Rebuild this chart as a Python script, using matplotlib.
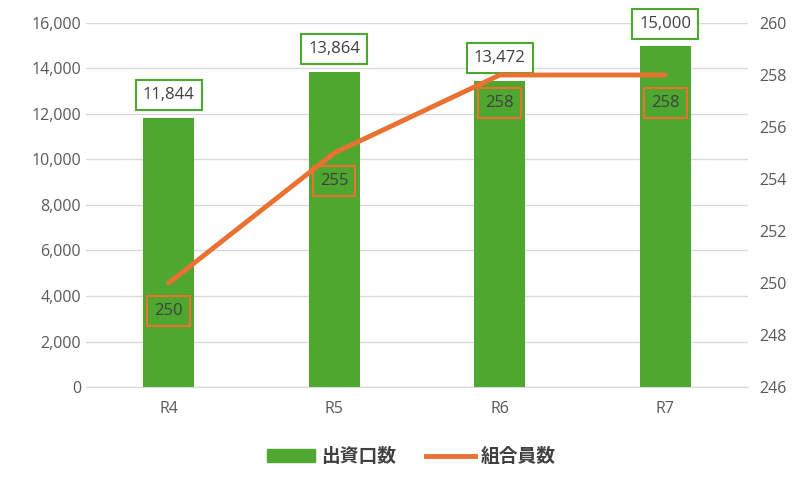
import matplotlib
matplotlib.use("Agg")
import matplotlib.pyplot as plt
from matplotlib.lines import Line2D
from matplotlib.patches import Patch

LATIN = ['Open Sans', 'Noto Sans CJK JP', 'DejaVu Sans']
CJK = ['Noto Sans CJK JP', 'DejaVu Sans']
plt.rcParams['font.family'] = LATIN

categories = ["R4", "R5", "R6", "R7"]
capital = [11844, 13864, 13472, 15000]
members = [250, 255, 258, 258]
series_names = ["出資口数", "組合員数"]

GREEN = "#4EA72E"
ORANGE = "#E97132"
TXT = "#595959"

fig = plt.figure(figsize=(8.06, 4.86), dpi=100)
ax = fig.add_axes([0.1067, 0.2037, 0.8213, 0.749])
ax2 = ax.twinx()

x = list(range(len(categories)))
ax.bar(x, capital, width=0.31, color=GREEN, zorder=2)
ax.set_xlim(-0.5, len(categories) - 0.5)
ax.set_ylim(0, 16000)
ax.set_yticks(range(0, 16001, 2000))
ax.set_yticklabels([f"{v:,}" for v in range(0, 16001, 2000)])
ax.grid(axis="y", color="#D9D9D9", linewidth=1, zorder=0)
ax.set_axisbelow(True)
for s in ["top", "left", "right"]:
    ax.spines[s].set_visible(False)
ax.spines["bottom"].set_color("#D9D9D9")
ax.set_xticks(x)
ax.set_xticklabels(categories)
ax.tick_params(axis="both", length=0, colors=TXT, labelsize=11.5)
ax.tick_params(axis="x", pad=10)

ax2.plot(x, members, color=ORANGE, linewidth=3.5, solid_capstyle="round", zorder=3)
ax2.set_ylim(246, 260)
ax2.set_yticks(range(246, 261, 2))
for s in ["top", "left", "right", "bottom"]:
    ax2.spines[s].set_visible(False)
ax2.tick_params(axis="y", length=0, colors=TXT, labelsize=11.5, pad=8)

for xi, v in zip(x, capital):
    ax.annotate(f"{v:,}", (xi, v), xytext=(0, 16), textcoords="offset points",
                ha="center", va="center", fontsize=12, color="#404040",
                bbox=dict(boxstyle="square,pad=0.42", fc="white", ec=GREEN, lw=1.5),
                zorder=5)
for xi, v in zip(x, members):
    ax2.annotate(f"{v}", (xi, v), xytext=(0, -20), textcoords="offset points",
                 ha="center", va="center", fontsize=12, color="#404040",
                 bbox=dict(boxstyle="square,pad=0.42", fc="none", ec=ORANGE, lw=1.5),
                 zorder=5)

handles = [Patch(color=GREEN, label=series_names[0]),
           Line2D([0], [0], color=ORANGE, lw=3.5, label=series_names[1])]
fig.legend(handles=handles, loc="center", bbox_to_anchor=(0.51, 0.06), ncol=2,
           frameon=False, labelcolor="#404040", handlelength=2.6,
           columnspacing=1.6, handletextpad=0.3,
           prop={'family': CJK, 'weight': 'bold', 'size': 13.5})

fig.savefig("out.png", dpi=100)
